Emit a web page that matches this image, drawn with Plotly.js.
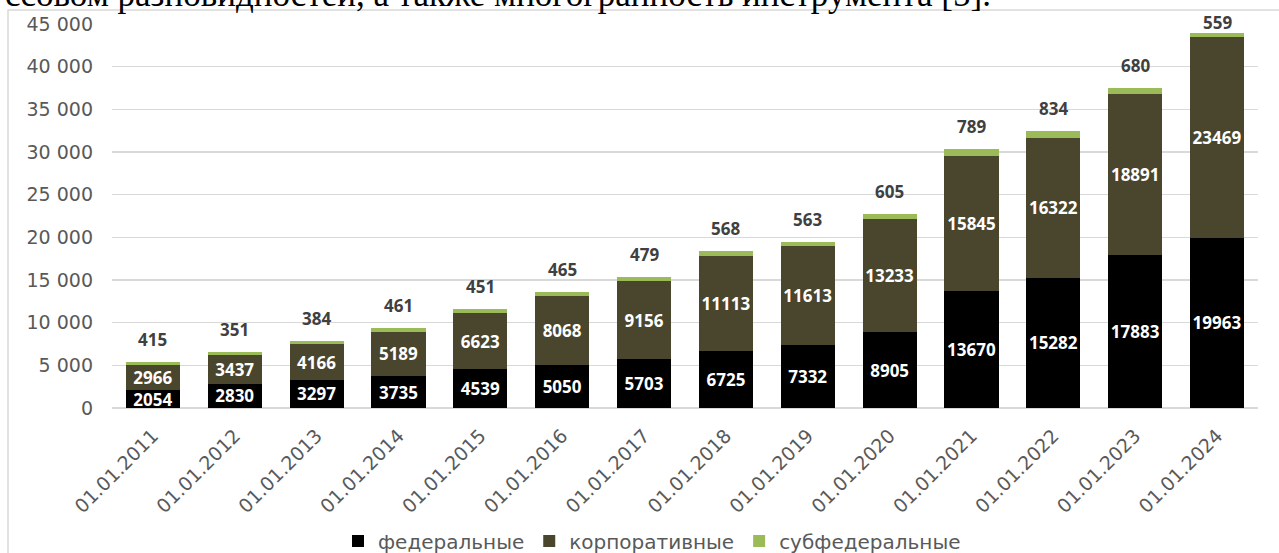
<!DOCTYPE html>
<html>
<head>
<meta charset="utf-8">
<script src="https://cdn.plot.ly/plotly-3.0.1.min.js"></script>
<style>html,body{margin:0;padding:0;background:#fff;}#chart{width:1279px;height:553px;}</style>
</head>
<body>
<div id="chart"></div>
<script>
const categories = ["01.01.2011","01.01.2012","01.01.2013","01.01.2014","01.01.2015","01.01.2016","01.01.2017","01.01.2018","01.01.2019","01.01.2020","01.01.2021","01.01.2022","01.01.2023","01.01.2024"];
const federal = [2054,2830,3297,3735,4539,5050,5703,6725,7332,8905,13670,15282,17883,19963];
const corporate = [2966,3437,4166,5189,6623,8068,9156,11113,11613,13233,15845,16322,18891,23469];
const subfederal = [415,351,384,461,451,465,479,568,563,605,789,834,680,559];
const seriesNames = ["федеральные","корпоративные","субфедеральные"];
const yTicks = [0,5000,10000,15000,20000,25000,30000,35000,40000,45000];
const yTickText = ["0","5 000","10 000","15 000","20 000","25 000","30 000","35 000","40 000","45 000"];
const docText = "ссовом разновидностей, а также многогранность инструмента [5].";

const AX = "DejaVu Sans, sans-serif";
const LB = "Noto Sans, Open Sans, sans-serif";
const Y_MAX = 45000;
const PLOT_T = 24, PLOT_B = 408, PLOT_L = 112, PLOT_R = 1258;
const pxPerUnit = (PLOT_B - PLOT_T) / Y_MAX;

const traces = [
  {type:"bar", name:seriesNames[0], x:categories, y:federal, text:federal.map(String),
   marker:{color:"#000000"}, textposition:"inside", insidetextanchor:"middle", constraintext:"none",
   textangle:0,
   textfont:{color:"#ffffff", size:17, family:LB, weight:"bold"}},
  {type:"bar", name:seriesNames[1], x:categories, y:corporate, text:corporate.map(String),
   marker:{color:"#4a452d"}, textposition:"inside", insidetextanchor:"middle", constraintext:"none",
   textangle:0,
   textfont:{color:"#ffffff", size:17, family:LB, weight:"bold"}},
  {type:"bar", name:seriesNames[2], x:categories, y:subfederal,
   marker:{color:"#9bbb59"}, textposition:"none"}
];

const totals = categories.map((c,i)=>federal[i]+corporate[i]+subfederal[i]);
const topLabels = categories.map((c,i)=>{
  const topPx = PLOT_B - totals[i]*pxPerUnit;
  const bottomPx = Math.max(topPx - 9, PLOT_T + 12);
  return {x:c, y:totals[i], xref:"x", yref:"y", text:String(subfederal[i]), showarrow:false,
          yanchor:"bottom", yshift: topPx - bottomPx,
          font:{family:LB, size:17, color:"#404040", weight:"bold"}};
});

const layout = {
  width:1279, height:553,
  margin:{l:PLOT_L, r:1279-PLOT_R, t:PLOT_T, b:553-PLOT_B, autoexpand:false},
  paper_bgcolor:"#ffffff", plot_bgcolor:"#ffffff",
  barmode:"stack", bargap:0.34,
  font:{family:AX, color:"#595959"},
  uniformtext:{mode:"show", minsize:15},
  xaxis:{type:"category", tickangle:-45, tickfont:{size:19, color:"#595959", family:AX},
         showgrid:false, showline:false, ticks:"", automargin:false, ticklabelstandoff:12},
  yaxis:{range:[0,Y_MAX], tickvals:yTicks, ticktext:yTickText,
         tickfont:{size:19, color:"#595959", family:AX}, gridcolor:"#d9d9d9", gridwidth:1.5,
         zeroline:true, zerolinecolor:"#d9d9d9", zerolinewidth:1.5,
         ticks:"", automargin:false, ticklabelstandoff:18,
         showline:false},
  showlegend:true,
  legend:{orientation:"h", x:(652-PLOT_L)/(PLOT_R-PLOT_L), xanchor:"center",
          y:(PLOT_B-541)/(PLOT_B-PLOT_T), yanchor:"middle",
          font:{size:20, color:"#595959", family:AX}, traceorder:"normal", itemwidth:30},
  shapes:[{type:"rect", xref:"paper", yref:"paper", x0:(8-PLOT_L)/(PLOT_R-PLOT_L), x1:1.02,
           y0:-0.45, y1:(PLOT_B-10)/(PLOT_B-PLOT_T),
           line:{color:"#d9d9d9", width:1.5}, fillcolor:"rgba(0,0,0,0)", layer:"below"}],
  annotations:[{xref:"paper", yref:"paper", x:(993-PLOT_L)/(PLOT_R-PLOT_L), xanchor:"right",
                y:(PLOT_B-16)/(PLOT_B-PLOT_T), yanchor:"bottom",
                text:docText, showarrow:false, font:{family:"Liberation Serif, Times New Roman, serif", size:35, color:"#000000"}}]
               .concat(topLabels)
};
Plotly.newPlot("chart", traces, layout, {displayModeBar:false, staticPlot:true});
</script>
</body>
</html>
